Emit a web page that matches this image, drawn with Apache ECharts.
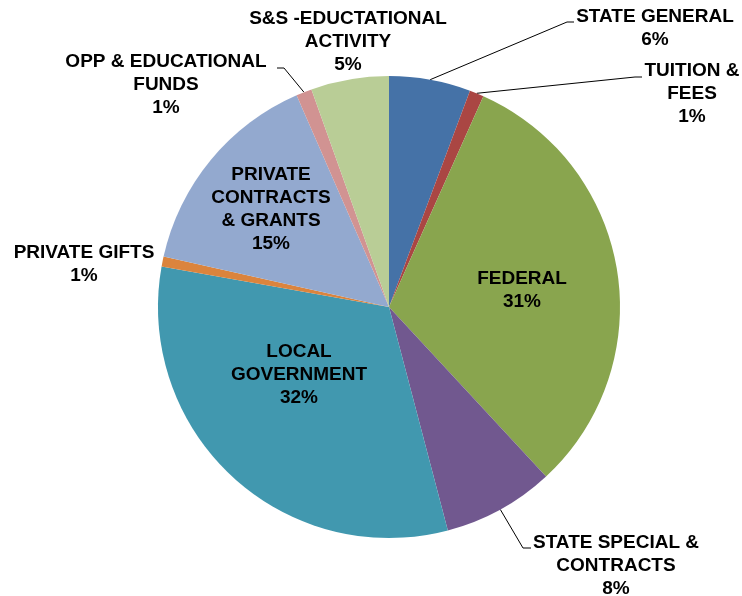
<!DOCTYPE html>
<html>
<head>
<meta charset="utf-8">
<script src="https://cdn.jsdelivr.net/npm/echarts@6/dist/echarts.min.js"></script>
<style>
  html, body { margin: 0; padding: 0; background: #fff; }
  #chart { width: 742px; height: 596px; }
</style>
</head>
<body>
<div id="chart"></div>
<script>
const categories = ['STATE GENERAL', 'TUITION & FEES', 'FEDERAL', 'STATE SPECIAL & CONTRACTS',
  'LOCAL GOVERNMENT', 'PRIVATE GIFTS', 'PRIVATE CONTRACTS & GRANTS', 'OPP & EDUCATIONAL FUNDS',
  'S&S -EDUCTATIONAL ACTIVITY']
const labelText = ['STATE GENERAL', 'TUITION &\nFEES', 'FEDERAL', 'STATE SPECIAL &\nCONTRACTS',
  'LOCAL\nGOVERNMENT', 'PRIVATE GIFTS', 'PRIVATE\nCONTRACTS\n& GRANTS', 'OPP & EDUCATIONAL\nFUNDS',
  'S&S -EDUCTATIONAL\nACTIVITY']
const shares = [5.7, 1.0, 31.4, 7.8, 31.9, 0.7, 14.95, 1.1, 5.45]
const colors = ['#4572A7', '#AA4643', '#89A54E', '#71588F', '#4198AF', '#DB843D', '#93A9CF', '#D19392', '#B9CD96']
const insideSlices = [2, 4, 6]
const noLeader = [5, 8]

// hand placed labels like the excel original: centre of the text block + leader bend/end
const labelSpots = [
  { x: 655, y: 28, line: [[567, 22], [574, 22]] },
  { x: 692, y: 94, line: [[635, 77], [642, 77]] },
  { x: 522, y: 290 },
  { x: 616, y: 566, line: [[523, 548], [531, 548]] },
  { x: 299, y: 375 },
  { x: 84, y: 264 },
  { x: 271, y: 209 },
  { x: 166, y: 85, line: [[284, 68], [277, 68]] },
  { x: 348, y: 42 }
]

const data = categories.map((name, i) => ({
  name: name,
  value: shares[i],
  itemStyle: { color: colors[i] },
  label: { position: insideSlices.includes(i) ? 'inside' : 'outside' },
  labelLine: { show: !insideSlices.includes(i) && !noLeader.includes(i) }
}))

const chart = echarts.init(document.getElementById('chart'))
chart.setOption({
  backgroundColor: '#fff',
  animation: false,
  series: [{
    type: 'pie',
    center: [389, 307],
    radius: 231,
    startAngle: 90,
    clockwise: true,
    avoidLabelOverlap: false,
    silent: true,
    data: data,
    itemStyle: { borderWidth: 0 },
    label: {
      show: true,
      formatter: p => labelText[p.dataIndex] + '\n' + Math.round(p.percent) + '%',
      fontFamily: 'Liberation Sans, Arial, sans-serif',
      fontWeight: 'bold',
      fontSize: 19,
      lineHeight: 23,
      color: '#000',
      width: 230,
      align: 'center'
    },
    labelLine: { length: 10, length2: 10, lineStyle: { color: '#000', width: 1 } },
    labelLayout: function (p) {
      const s = labelSpots[p.dataIndex]
      const out = { x: s.x, y: s.y, align: 'center', verticalAlign: 'middle' }
      if (s.line && p.labelLinePoints) {
        out.labelLinePoints = [p.labelLinePoints[0], s.line[0], s.line[1]]
      }
      return out
    }
  }]
})
</script>
</body>
</html>
